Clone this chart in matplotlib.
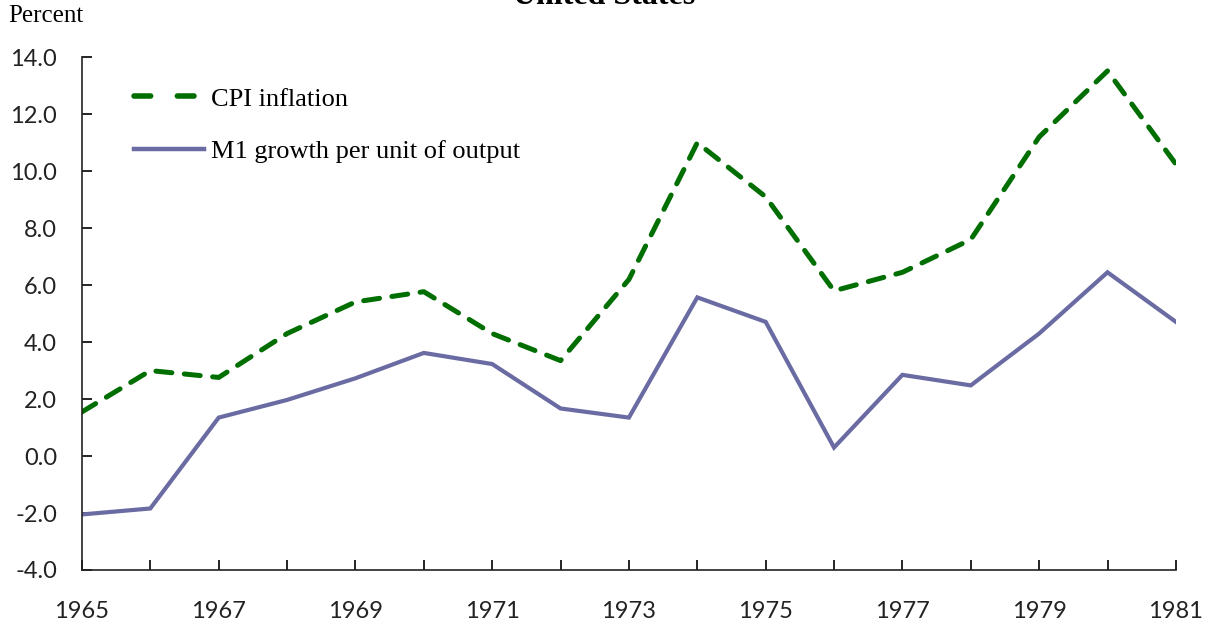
import matplotlib
matplotlib.use("Agg")
import matplotlib.pyplot as plt
from matplotlib.lines import Line2D

years = list(range(1965, 1982))

cpi_inflation = [1.55, 3.0, 2.76, 4.3, 5.41, 5.77, 4.3, 3.35, 6.2, 11.0,
                 9.1, 5.8, 6.45, 7.6, 11.2, 13.52, 10.25]

m1_growth = [-2.05, -1.84, 1.35, 1.97, 2.73, 3.62, 3.23, 1.67, 1.35, 5.57,
             4.71, 0.3, 2.85, 2.48, 4.3, 6.45, 4.71]

y_ticks = [-4, -2, 0, 2, 4, 6, 8, 10, 12, 14]
x_labels = list(range(1965, 1982, 2))

serif = "Liberation Serif"
sans = "Lato"
green = "#006E00"
purple = "#6B6BA3"

fig = plt.figure(figsize=(12.16, 6.29), dpi=100)
ax = fig.add_axes([0.0674, 0.0938, 0.8996, 0.8152])

ax.plot(years, cpi_inflation, color=green, lw=3.6,
        dashes=(3.2, 2.5), dash_capstyle="round")
ax.plot(years, m1_growth, color=purple, lw=3.0, solid_joinstyle="miter")

ax.set_xlim(1965, 1981)
ax.set_ylim(-4, 14)
ax.set_yticks(y_ticks)
ax.set_yticklabels([f"{v:.1f}" for v in y_ticks])
ax.set_xticks(years)
ax.set_xticklabels([str(y) if y in x_labels else "" for y in years])

for s in ["top", "right"]:
    ax.spines[s].set_visible(False)
for s in ["left", "bottom"]:
    ax.spines[s].set_linewidth(1.2)
    ax.spines[s].set_color("#222222")

ax.tick_params(axis="y", direction="in", length=7, width=1.2, pad=18,
               labelsize=17, labelcolor="#222222")
ax.tick_params(axis="x", direction="in", length=7, width=1.2, pad=22,
               labelsize=17, labelcolor="#222222")
for lab in ax.get_xticklabels() + ax.get_yticklabels():
    lab.set_fontfamily(sans)

# legend handles: two long dashes for CPI, like the original
handles = [
    Line2D([], [], color=green, lw=4.0, dashes=(3.0, 4.8),
           dash_capstyle="round"),
    Line2D([], [], color=purple, lw=3.2),
]
labels = ["CPI inflation", "M1 growth per unit of output"]
ax.legend(handles, labels, loc="upper left", bbox_to_anchor=(0.026, 0.988),
          frameon=False, prop={"family": serif, "size": 19},
          handlelength=2.65, handletextpad=0.28, labelspacing=1.1)

fig.text(0.007, 0.974, "Percent", family=serif, fontsize=18,
         ha="left", va="center")
fig.text(0.497, 1 - 4 / 629, "United States", family=serif, fontsize=23,
         fontweight="bold", ha="center", va="baseline")

fig.savefig("out.png", dpi=100)
